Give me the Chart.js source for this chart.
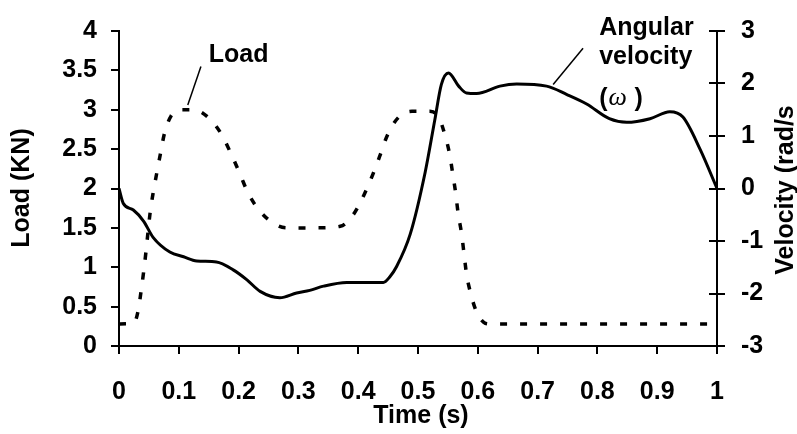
<!DOCTYPE html>
<html>
<head>
<meta charset="utf-8">
<script src="https://cdn.jsdelivr.net/npm/chart.js@4.4.0/dist/chart.umd.min.js"></script>
<style>
html,body{margin:0;padding:0;background:#fff;}
#wrap{width:797px;height:434px;position:relative;}
</style>
</head>
<body>
<div id="wrap"><canvas id="c" width="797" height="434"></canvas></div>
<script>
// Load curve (left axis, KN)
const loadTime = [0, 0.025, 0.032, 0.037, 0.041, 0.045, 0.052, 0.057, 0.063, 0.069, 0.076, 0.087, 0.105, 0.125, 0.151, 0.172, 0.188, 0.202, 0.216, 0.236, 0.26, 0.28, 0.33, 0.37, 0.392, 0.411, 0.425, 0.436, 0.449, 0.467, 0.49, 0.52, 0.535, 0.545, 0.553, 0.558, 0.563, 0.567, 0.573, 0.577, 0.581, 0.588, 0.598, 0.61, 0.62, 1.0];
const loadValues = [0.28, 0.29, 0.45, 0.70, 0.93, 1.19, 1.69, 1.94, 2.19, 2.43, 2.70, 2.92, 3.0, 3.0, 2.89, 2.68, 2.43, 2.19, 1.94, 1.71, 1.55, 1.5, 1.5, 1.52, 1.67, 1.94, 2.19, 2.41, 2.68, 2.90, 2.98, 2.98, 2.9, 2.68, 2.43, 2.19, 1.94, 1.69, 1.42, 1.17, 0.92, 0.67, 0.43, 0.3, 0.28, 0.28];
// Angular velocity curve (right axis, rad/s)
const velTime = [0, 0.007, 0.024, 0.041, 0.057, 0.085, 0.108, 0.13, 0.163, 0.191, 0.214, 0.236, 0.269, 0.297, 0.319, 0.342, 0.381, 0.442, 0.453, 0.464, 0.487, 0.512, 0.528, 0.539, 0.551, 0.568, 0.581, 0.598, 0.637, 0.665, 0.715, 0.749, 0.782, 0.82, 0.849, 0.888, 0.921, 0.943, 0.972, 1.0];
const velValues = [0.0, -0.28, -0.41, -0.62, -0.93, -1.21, -1.30, -1.38, -1.40, -1.55, -1.74, -1.96, -2.08, -1.99, -1.94, -1.86, -1.79, -1.79, -1.68, -1.49, -0.87, 0.31, 1.30, 1.98, 2.20, 1.95, 1.82, 1.81, 1.95, 1.99, 1.95, 1.79, 1.61, 1.33, 1.26, 1.33, 1.46, 1.36, 0.74, 0.0];
// Axis ticks
const timeTicks = [0, 0.1, 0.2, 0.3, 0.4, 0.5, 0.6, 0.7, 0.8, 0.9, 1];
const loadTicks = [0, 0.5, 1, 1.5, 2, 2.5, 3, 3.5, 4];
const velTicks = [-3, -2, -1, 0, 1, 2, 3];
// Labels
const xTitle = 'Time (s)';
const yTitle = 'Load (KN)';
const y1Title = 'Velocity (rad/s';
const loadLabel = 'Load';
const velLabelLines = ['Angular', 'velocity'];

const FONT = '"Liberation Sans", Arial, sans-serif';

const pts = (xs, ys) => xs.map((x, i) => ({x: x, y: ys[i]}));

const annot = {
  id: 'annot',
  afterDraw(chart) {
    const {ctx, scales} = chart;
    const x = scales.x, y = scales.y, y1 = scales.y1;
    ctx.save();
    // inner half of right-axis ticks
    ctx.strokeStyle = '#000';
    ctx.lineWidth = 2;
    velTicks.forEach(v => {
      const py = Math.round(y1.getPixelForValue(v));
      ctx.beginPath();
      ctx.moveTo(y1.left - 8, py);
      ctx.lineTo(y1.left, py);
      ctx.stroke();
    });
    ctx.fillStyle = '#000';
    ctx.font = 'bold 25px ' + FONT;
    // Load label
    ctx.textAlign = 'center';
    ctx.textBaseline = 'middle';
    ctx.fillText(loadLabel, x.getPixelForValue(0.2), y.getPixelForValue(3.70));
    ctx.lineWidth = 1.5;
    ctx.beginPath();
    ctx.moveTo(x.getPixelForValue(0.137), y.getPixelForValue(3.55));
    ctx.lineTo(x.getPixelForValue(0.115), y.getPixelForValue(3.06));
    ctx.stroke();
    // Angular velocity label
    ctx.textAlign = 'left';
    const lx = x.getPixelForValue(0.803);
    ctx.fillText(velLabelLines[0], lx, y1.getPixelForValue(3.06));
    ctx.fillText(velLabelLines[1], lx, y1.getPixelForValue(2.5));
    const oy = y1.getPixelForValue(1.70);
    ctx.fillText('(', lx, oy);
    let w = ctx.measureText('(').width;
    ctx.font = 'italic 26px "Liberation Serif", serif';
    ctx.fillText('\u03C9', lx + w + 1, oy - 1);
    w += ctx.measureText('\u03C9 ').width + 2;
    ctx.font = 'bold 25px ' + FONT;
    ctx.fillText(')', lx + w, oy);
    ctx.beginPath();
    ctx.moveTo(x.getPixelForValue(0.776), y1.getPixelForValue(2.67));
    ctx.lineTo(x.getPixelForValue(0.726), y1.getPixelForValue(1.98));
    ctx.stroke();
    // axis titles
    ctx.textAlign = 'center';
    ctx.fillText(xTitle, 421, 416);
    ctx.save();
    ctx.translate(22, 188);
    ctx.rotate(-Math.PI / 2);
    ctx.fillText(yTitle, 0, 0);
    ctx.restore();
    ctx.save();
    ctx.translate(786, 190);
    ctx.rotate(-Math.PI / 2);
    ctx.fillText(y1Title, 0, 0);
    ctx.restore();
    ctx.restore();
  }
};

const bg = {
  id: 'bg',
  beforeDraw(chart) {
    const ctx = chart.ctx;
    ctx.save();
    ctx.fillStyle = '#fff';
    ctx.fillRect(0, 0, chart.width, chart.height);
    ctx.restore();
  }
};

const tickFont = {family: FONT, size: 25, weight: 'bold'};

new Chart(document.getElementById('c'), {
  type: 'line',
  data: {
    datasets: [
      {
        label: 'Angular velocity',
        data: pts(velTime, velValues),
        yAxisID: 'y1',
        borderColor: '#000',
        borderWidth: 3,
        pointRadius: 0,
        fill: false,
        cubicInterpolationMode: 'monotone'
      },
      {
        label: 'Load',
        data: pts(loadTime, loadValues),
        yAxisID: 'y',
        borderColor: '#000',
        borderWidth: 3.5,
        borderDash: [7, 13],
        pointRadius: 0,
        fill: false,
        cubicInterpolationMode: 'monotone'
      }
    ]
  },
  options: {
    responsive: false,
    animation: false,
    devicePixelRatio: 1,
    layout: {padding: {top: 24, left: 0, right: 0, bottom: 0}},
    plugins: {legend: {display: false}, tooltip: {enabled: false}},
    scales: {
      x: {
        type: 'linear',
        min: 0, max: 1,
        afterBuildTicks: s => { s.ticks = timeTicks.map(v => ({value: v})); },
        afterFit: s => { s.height = 88; },
        ticks: {
          autoSkip: false, maxRotation: 0, color: '#000', font: tickFont, padding: 23,
          callback: v => String(+v.toFixed(1))
        },
        grid: {drawOnChartArea: false, drawTicks: true, tickLength: 8, color: '#000', lineWidth: 2},
        border: {display: true, color: '#000', width: 2}
      },
      y: {
        type: 'linear', position: 'left',
        min: 0, max: 4,
        afterBuildTicks: s => { s.ticks = loadTicks.map(v => ({value: v})); },
        afterFit: s => { s.width = 119; },
        ticks: {autoSkip: false, color: '#000', font: tickFont, padding: 14,
          callback: v => String(+v.toFixed(1))},
        grid: {drawOnChartArea: false, drawTicks: true, tickLength: 8, color: '#000', lineWidth: 2},
        border: {display: true, color: '#000', width: 2}
      },
      y1: {
        type: 'linear', position: 'right',
        min: -3, max: 3,
        afterBuildTicks: s => { s.ticks = velTicks.map(v => ({value: v})); },
        afterFit: s => { s.width = 80; },
        ticks: {autoSkip: false, color: '#000', font: tickFont, padding: 16,
          callback: v => String(v)},
        grid: {drawOnChartArea: false, drawTicks: true, tickLength: 8, color: '#000', lineWidth: 2},
        border: {display: true, color: '#000', width: 2}
      }
    }
  },
  plugins: [bg, annot]
});
</script>
</body>
</html>
